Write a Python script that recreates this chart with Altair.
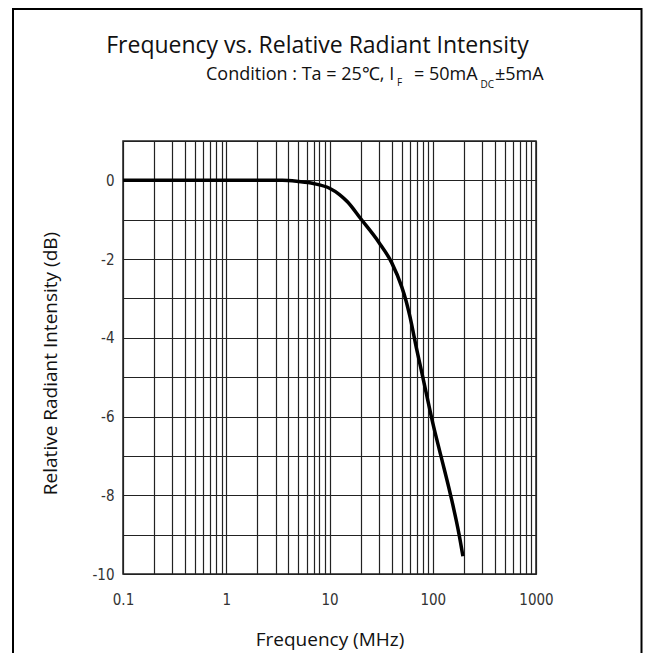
import json
import altair as alt
import pandas as pd

# ---- data ----
freq_mhz = [0.1, 1, 3.5, 5, 7, 10, 12.5, 15, 20, 30, 40, 50, 55, 60, 70, 80, 100, 120, 149, 180, 196]
rel_db = [0, 0, 0, -0.03, -0.08, -0.2, -0.36, -0.55, -0.97, -1.57, -2.09, -2.7, -3.05, -3.45, -4.3, -4.99, -6.16, -7.0, -8.0, -9.0, -9.55]

x_grid = [0.1, 0.2, 0.3, 0.4, 0.5, 0.6, 0.7, 0.8, 0.9,
          1, 2, 3, 4, 5, 6, 7, 8, 9,
          10, 20, 30, 40, 50, 60, 70, 80, 90,
          100, 200, 300, 400, 500, 600, 700, 800, 900, 1000]
x_labels = [0.1, 1, 10, 100, 1000]
y_grid = [-10, -9, -8, -7, -6, -5, -4, -3, -2, -1, 0, 1]
y_labels = [-10, -8, -6, -4, -2, 0]

title_text = "Frequency vs. Relative Radiant Intensity"
sub_parts = ["Condition : Ta = 25\u2103, I", "F", "= 50mA", "DC", "\u00b15mA"]
x_title = "Frequency (MHz)"
y_title = "Relative Radiant Intensity (dB)"

df = pd.DataFrame({"freq": freq_mhz, "db": rel_db})
one = pd.DataFrame({"k": [0]})

label_font = "Liberation Sans Narrow, DejaVu Sans Condensed, Arial Narrow, sans-serif"
text_font = "Open Sans, Lato, sans-serif"
grid_col = "#222"

x_axis = alt.Axis(
    values=x_grid, format="~g",
    labelExpr=f"indexof({json.dumps(x_labels)}, datum.value) >= 0 ? datum.label : ''",
    ticks=False, labelPadding=18, labelOverlap=False, labelFlush=False,
    labelFont=label_font, labelFontSize=15, labelColor="#333",
    grid=True, gridColor=grid_col, gridWidth=1.2, gridOpacity=1, domain=False,
    title=x_title, titleFont=text_font, titleFontSize=19, titleFontWeight="normal",
    titleColor="#111", titleY=71, titleBaseline="alphabetic",
)
y_axis = alt.Axis(
    values=y_grid, format="d",
    labelExpr=f"indexof({json.dumps(y_labels)}, datum.value) >= 0 ? replace(datum.label, '\u2212', '-') : ''",
    ticks=False, labelPadding=9, labelOverlap=False, labelFlush=False,
    labelFont=label_font, labelFontSize=15, labelColor="#333",
    grid=True, gridColor=grid_col, gridWidth=1.2, gridOpacity=1, domain=False,
    title=y_title, titleFont=text_font, titleFontSize=19, titleFontWeight="normal",
    titleColor="#111", titleX=-73, titleY=222, titleAngle=-90, titleBaseline="middle",
)

line = alt.Chart(df).mark_line(color="black", strokeWidth=3.5, interpolate="monotone").encode(
    x=alt.X("freq:Q", scale=alt.Scale(type="log", domain=[0.1, 1000], nice=False), axis=x_axis),
    y=alt.Y("db:Q", scale=alt.Scale(domain=[-10, 1], nice=False, zero=False), axis=y_axis),
)

frame = alt.Chart(one).mark_rect(fillOpacity=0, stroke="black", strokeWidth=2).encode(
    x=alt.value(-110), x2=alt.value(518.5), y=alt.value(-132), y2=alt.value(600)
)

def txt(t, x, y, size, align="left"):
    return alt.Chart(one).mark_text(
        text=t, font=text_font, fontSize=size, color="#111", align=align, baseline="alphabetic"
    ).encode(x=alt.value(x), y=alt.value(y))

texts = [
    txt(title_text, 194.5, -88, 23, "center"),
    txt(sub_parts[0], 83, -61, 18),
    txt(sub_parts[1], 274, -55, 10),
    txt(sub_parts[2], 291, -61, 18),
    txt(sub_parts[3], 357.5, -53, 10),
    txt(sub_parts[4], 372, -61, 18),
]

chart = alt.layer(frame, line, *texts).properties(
    width=413, height=433,
    padding={"left": 115, "top": 133, "right": 107, "bottom": 79},
    autosize=alt.AutoSizeParams(type="none"),
).configure_view(stroke=grid_col, strokeWidth=1.5)

chart.save("out.html", embed_options={"renderer": "svg", "actions": False})
